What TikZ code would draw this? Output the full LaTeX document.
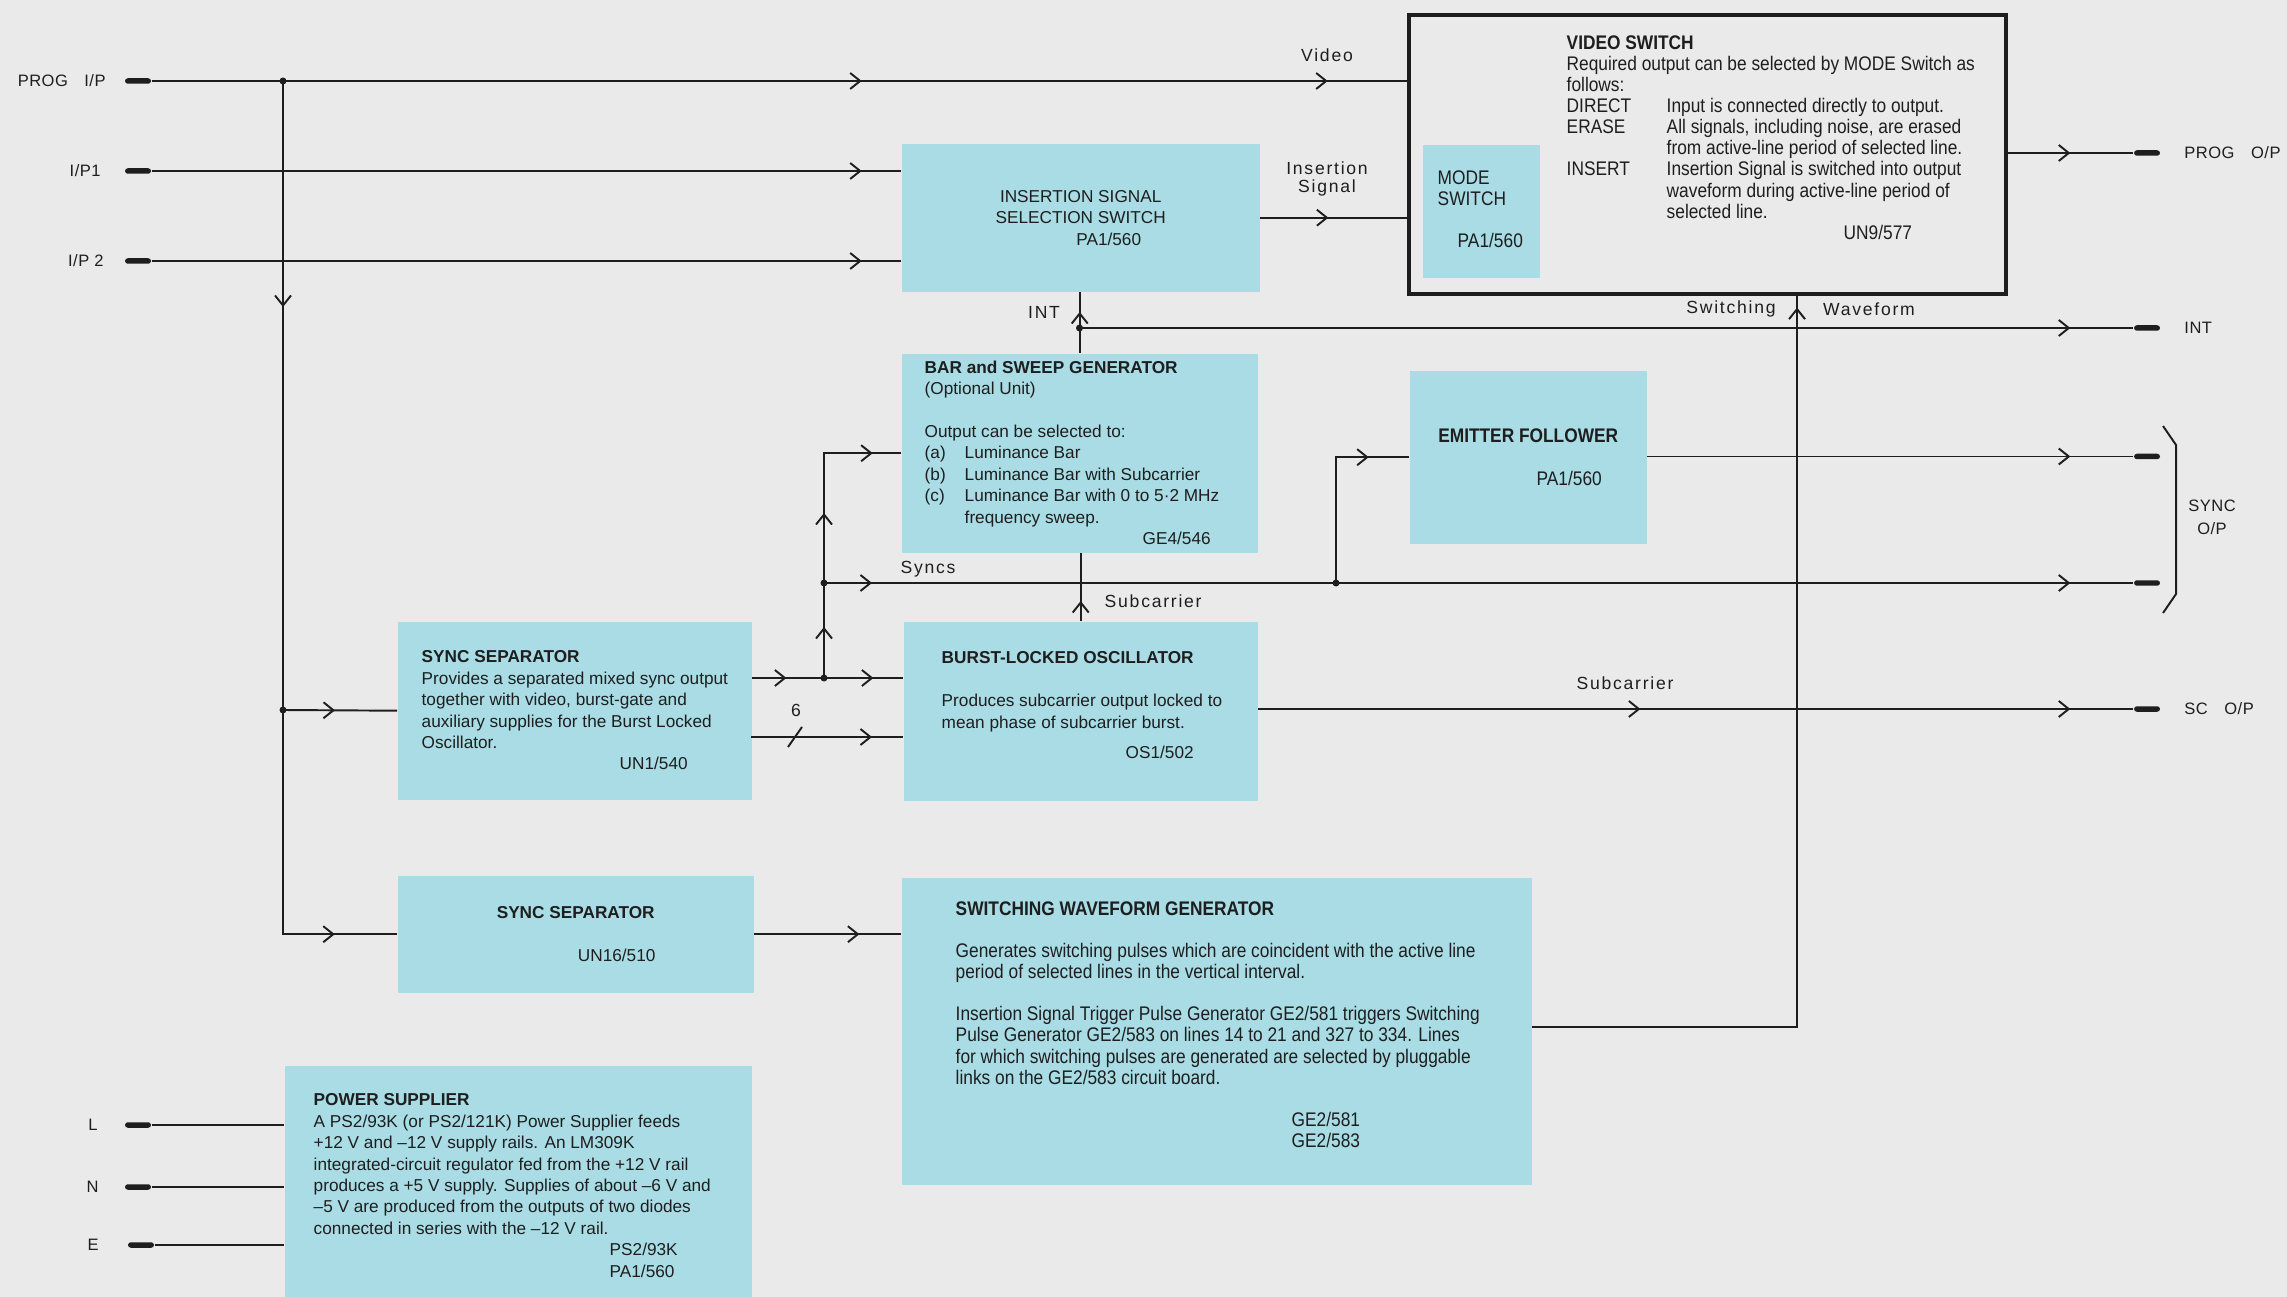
\documentclass[tikz,border=0pt]{standalone}
\usepackage{fontspec}
\setmainfont{Liberation Sans}
\newfontfamily\condfont[FakeStretch=0.88]{Liberation Sans}
\newfontfamily\tagfont[LetterSpace=10]{Liberation Sans}
\newfontfamily\termfont[LetterSpace=3]{Liberation Sans}
\usetikzlibrary{
  arrows.meta,
  positioning,
  decorations.markings,
}
\definecolor{paper}{HTML}{EAEAEA}
\definecolor{unitcyan}{HTML}{A9DCE5}
\definecolor{ink}{HTML}{1E1E1E}
\newcommand{\bodysize}{\fontsize{4.9}{6.1}\selectfont}
\newcommand{\condsize}{\condfont\fontsize{5.6}{6.0}\selectfont}
\newcommand{\tagsize}{\tagfont\fontsize{5}{5}\selectfont}
\newcommand{\termsize}{\termfont\fontsize{4.7}{5}\selectfont}
\newcommand{\modekey}[1]{\makebox[1cm][l]{#1}}
\tikzset{
  chevron/.tip={Straight Barb[length=1mm,width=1.6mm]},
  unitbox/.style={
    rectangle, fill=unitcyan, draw=none, inner sep=0pt,
    anchor=north west, text=ink,
  },
  switchframe/.style={
    rectangle, draw=ink, line width=1pt, inner sep=0pt,
    anchor=north west,
  },
  bodytext/.style={
    inner sep=0pt, anchor=north west, align=left,
    font=\bodysize, text=ink,
  },
  condtext/.style={
    inner sep=0pt, anchor=north west, align=left,
    font=\condsize, text=ink,
  },
  sigtag/.style={
    inner sep=0pt, font=\tagsize, text=ink, align=center,
  },
  termtag/.style={
    inner sep=0pt, font=\termsize, text=ink, align=center,
  },
  terminal/.style={
    rectangle, rounded corners=0.8pt, fill=ink, inner sep=0pt,
    minimum width=0.26cm, minimum height=0.055cm,
  },
  junction/.style={
    circle, fill=ink, inner sep=0pt, minimum size=0.07cm,
  },
  wire/.style={draw=ink, line width=0.55pt},
  arrowAt/.style={
    postaction={decorate, decoration={markings,
      mark=at position #1 with {\arrow{chevron}}}},
  },
}

\begin{document}
\begin{tikzpicture}
\useasboundingbox (0,0) rectangle (22.87,-12.97);
\fill[paper] (0,0) rectangle (22.87,-12.97);

% Terminals
\node[terminal] (tProg) at (1.38,-0.81) {};
\node[terminal] (tIpA) at (1.38,-1.71) {};
\node[terminal] (tIpB) at (1.38,-2.61) {};
\node[terminal] (tL) at (1.38,-11.25) {};
\node[terminal] (tN) at (1.38,-11.87) {};
\node[terminal] (tE) at (1.41,-12.45) {};
\node[terminal] (tProgOut) at (21.47,-1.53) {};
\node[terminal] (tInt) at (21.47,-3.28) {};
\node[terminal] (tSyncA) at (21.47,-4.565) {};
\node[terminal] (tSyncB) at (21.47,-5.83) {};
\node[terminal] (tSc) at (21.47,-7.09) {};

\node[termtag, left=0.18 of tProg] {PROG\quad I/P};
\node[termtag, left=0.23 of tIpA] {I/P1};
\node[termtag, left=0.2 of tIpB] {I/P 2};
\node[termtag, left=0.26 of tL] {L};
\node[termtag, left=0.25 of tN] {N};
\node[termtag, left=0.28 of tE] {E};
\node[termtag, right=0.23 of tProgOut] {PROG\quad O/P};
\node[termtag, right=0.23 of tInt] {INT};
\node[termtag, right=0.23 of tSc] {SC\quad O/P};
\node[termtag] at (22.12,-5.17) {SYNC\\[1.5pt]O/P};
\draw[wire] (21.63,-4.26) -- (21.76,-4.45) -- (21.76,-5.94) -- (21.63,-6.13);

% Units
\node[unitbox, minimum width=3.58cm, minimum height=1.48cm,
  align=center, font=\bodysize] (isss) at (9.01,-1.43)
  {INSERTION SIGNAL\\SELECTION SWITCH\\\hspace*{0.56cm}PA1/560};

\node[switchframe, minimum width=5.97cm, minimum height=2.79cm]
  (vsw) at (14.07,-0.13) {};
\node[condtext, below right=0.22 and 1.59 of vsw.north west] (vswText)
  {{\bfseries VIDEO SWITCH}\\
   Required output can be selected by MODE Switch as\\
   follows:\\
   \modekey{DIRECT}Input is connected directly to output.\\
   \modekey{ERASE}All signals, including noise, are erased\\
   \hspace*{1cm}from active-line period of selected line.\\
   \modekey{INSERT}Insertion Signal is switched into output\\
   \hspace*{1cm}waveform during active-line period of\\
   \hspace*{1cm}selected line.\\
   \hspace*{2.77cm}UN9/577};

\node[unitbox, minimum width=1.17cm, minimum height=1.33cm]
  (mode) at (14.22,-1.44) {};
\node[condtext, below right=0.26 and 0.15 of mode.north west] (modeText)
  {MODE\\SWITCH\\[6pt]\hspace*{0.2cm}PA1/560};

\node[unitbox, minimum width=3.56cm, minimum height=1.99cm]
  (bsg) at (9.01,-3.53) {};
\node[bodytext, below right=0.07 and 0.23 of bsg.north west] (bsgText)
  {{\bfseries BAR and SWEEP GENERATOR}\\
   (Optional Unit)\\[6.1pt]
   Output can be selected to:\\
   \makebox[0.4cm][l]{(a)}Luminance Bar\\
   \makebox[0.4cm][l]{(b)}Luminance Bar with Subcarrier\\
   \makebox[0.4cm][l]{(c)}Luminance Bar with 0 to 5·2 MHz\\
   \hspace*{0.4cm}frequency sweep.\\
   \hspace*{2.18cm}GE4/546};

\node[unitbox, minimum width=2.37cm, minimum height=1.73cm,
  align=center, font=\condsize] (ef) at (14.09,-3.70)
  {{\bfseries EMITTER FOLLOWER}\\[6pt]\hspace*{0.82cm}PA1/560};

\node[unitbox, minimum width=3.54cm, minimum height=1.78cm]
  (ssA) at (3.97,-6.21) {};
\node[bodytext, below right=0.29 and 0.24 of ssA.north west] (ssAText)
  {{\bfseries SYNC SEPARATOR}\\
   Provides a separated mixed sync output\\
   together with video, burst-gate and\\
   auxiliary supplies for the Burst Locked\\
   Oscillator.\\
   \hspace*{1.98cm}UN1/540};

\node[unitbox, minimum width=3.54cm, minimum height=1.79cm]
  (blo) at (9.03,-6.21) {};
\node[bodytext, below right=0.30 and 0.38 of blo.north west] (bloText)
  {{\bfseries BURST-LOCKED OSCILLATOR}\\[6.1pt]
   Produces subcarrier output locked to\\
   mean phase of subcarrier burst.\\[2.7pt]
   \hspace*{1.84cm}OS1/502};

\node[unitbox, minimum width=3.56cm, minimum height=1.17cm,
  align=center, font=\bodysize] (ssB) at (3.97,-8.75)
  {{\bfseries SYNC SEPARATOR}\\[6.1pt]\hspace*{0.82cm}UN16/510};

\node[unitbox, minimum width=6.30cm, minimum height=3.07cm]
  (swg) at (9.01,-8.77) {};
\node[condtext, below right=0.24 and 0.54 of swg.north west] (swgText)
  {{\bfseries SWITCHING WAVEFORM GENERATOR}\\[6pt]
   Generates switching pulses which are coincident with the active line\\
   period of selected lines in the vertical interval.\\[6pt]
   Insertion Signal Trigger Pulse Generator GE2/581 triggers Switching\\
   Pulse Generator GE2/583 on lines 14 to 21 and 327 to 334. Lines\\
   for which switching pulses are generated are selected by pluggable\\
   links on the GE2/583 circuit board.\\[6pt]
   \hspace*{3.36cm}GE2/581\\
   \hspace*{3.36cm}GE2/583};

\node[unitbox, minimum width=4.67cm, minimum height=2.32cm]
  (psu) at (2.84,-10.65) {};
\node[bodytext, below right=0.28 and 0.29 of psu.north west] (psuText)
  {{\bfseries POWER SUPPLIER}\\
   A PS2/93K (or PS2/121K) Power Supplier feeds\\
   +12 V and –12 V supply rails. An LM309K\\
   integrated-circuit regulator fed from the +12 V rail\\
   produces a +5 V supply. Supplies of about –6 V and\\
   –5 V are produced from the outputs of two diodes\\
   connected in series with the –12 V rail.\\
   \hspace*{2.96cm}PS2/93K\\
   \hspace*{2.96cm}PA1/560};

% Inputs and video feed
\node[junction] (jBus) at (2.83,-0.81) {};
\node[junction] (jSsA) at (2.83,-7.10) {};
\draw[wire, arrowAt=7.10cm, arrowAt=11.76cm] (tProg) -- (tProg -| vsw.west);
\draw[wire, arrowAt=7.10cm] (tIpA) -- (tIpA -| isss.west);
\draw[wire, arrowAt=7.10cm] (tIpB) -- (tIpB -| isss.west);
\draw[wire, arrowAt=2.26cm, arrowAt=9.05cm] (jBus.center) |- (ssB.west);
\draw[wire, arrowAt=0.52cm] (jSsA.center) -- (ssA.west);
\node[sigtag] (lblVideo) at (13.27,-0.55) {Video};

% Insertion signal
\draw[wire, arrowAt=0.68cm] (isss.east) -- (isss.east -| vsw.west);
\node[sigtag] (lblIns) at (13.27,-1.79) {Insertion\\Signal};

% Sync separator outputs
\node[junction] (jFeed) at (8.24,-6.78) {};
\node[junction] (jSyncs) at (8.24,-5.83) {};
\coordinate (sixBus) at (7.51,-7.37);
\draw[wire, arrowAt=0.34cm, arrowAt=1.21cm] (ssA.east |- jFeed) -- (blo.west |- jFeed);
\draw[wire, arrowAt=1.21cm] (sixBus) -- (sixBus -| blo.west);
\draw[wire] (7.88,-7.47) -- (8.02,-7.27);
\node[sigtag] (lblSix) at (7.96,-7.10) {6};
\draw[wire, arrowAt=0.51cm, arrowAt=1.65cm, arrowAt=2.735cm] (jFeed.center) |- (bsg.west);

% Syncs to outputs
\node[junction] (jEf) at (13.36,-5.83) {};
\draw[wire, arrowAt=0.48cm, arrowAt=-0.63cm] (jSyncs.center) -- (tSyncB);
\node[sigtag] (lblSyncs) at (9.28,-5.69) {Syncs};
\draw[wire, arrowAt=1.585cm] (jEf.center) |- (ef.west);
\draw[wire, arrowAt=-0.63cm] (tSyncA -| ef.east) -- (tSyncA);

% Subcarrier
\draw[wire, arrowAt=0.20cm] (blo.north) -- (blo.north |- bsg.south);
\node[sigtag, anchor=west] (lblSubUp) at (11.04,-6.01) {Subcarrier};
\draw[wire, arrowAt=3.82cm, arrowAt=-0.63cm] (tSc -| blo.east) -- (tSc);
\node[sigtag] (lblSubOut) at (16.25,-6.83) {Subcarrier};

% INT
\node[junction] (jInt) at (10.795,-3.28) {};
\draw[wire, arrowAt=0.41cm] (bsg.north) -- (bsg.north |- isss.south);
\draw[wire, arrowAt=-0.63cm] (jInt.center) -- (tInt);
\node[sigtag] (lblIntUp) at (10.44,-3.12) {INT};

% Switching waveform
\draw[wire, arrowAt=1.05cm] (ssB.east) -- (ssB.east -| swg.west);
\coordinate (swgTap) at (swg.east |- 0,-10.27);
\coordinate (vswTap) at (vsw.south -| 17.97,0);
\draw[wire, arrowAt=9.84cm] (swgTap) -| (vswTap);
\node[sigtag] (lblSwitching) at (17.31,-3.09) {Switching};
\node[sigtag] (lblWaveform) at (18.69,-3.09) {Waveform};

% Program output
\draw[wire, arrowAt=-0.63cm] (tProgOut -| vsw.east) -- (tProgOut);

% Mains
\draw[wire] (tL) -- (tL -| psu.west);
\draw[wire] (tN) -- (tN -| psu.west);
\draw[wire] (tE) -- (tE -| psu.west);

\end{tikzpicture}
\end{document}
